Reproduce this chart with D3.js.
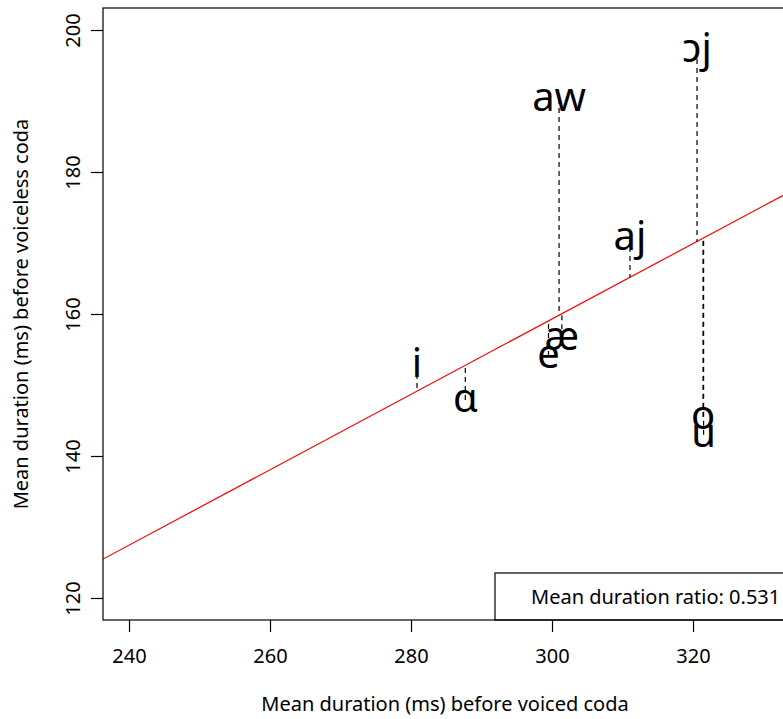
<!DOCTYPE html>
<html>
<head>
<meta charset="utf-8">
<script src="https://cdn.jsdelivr.net/npm/d3@7"></script>
<style>
  html, body { margin: 0; padding: 0; background: #fff; }
  svg { display: block; }
  text { font-family: "Noto Sans", "Open Sans", sans-serif; fill: #000; }
</style>
</head>
<body>
<svg id="chart" width="783" height="719"></svg>
<script>
// ---- data ----
const vowels = ["i", "ɑ", "e", "æ", "aw", "aj", "ɔj", "o", "u"];
const voicedDur = [280.85, 287.7, 299.5, 301.4, 301.0, 311.06, 320.57, 321.42, 321.5];
const voicelessDur = [152.8, 147.9, 154.1, 156.6, 190.3, 170.7, 197.2, 145.5, 143.0];
const meanRatio = 0.531;
const xTicks = [240, 260, 280, 300, 320];
const yTicks = [120, 140, 160, 180, 200];
const xTitle = "Mean duration (ms) before voiced coda";
const yTitle = "Mean duration (ms) before voiceless coda";
const legendText = "Mean duration ratio: " + meanRatio;

// ---- layout ----
const W = 783, H = 719;
const plot = { left: 103, top: 8, right: 787, bottom: 620 };
const svg = d3.select("#chart");

const x = d3.scaleLinear().domain([236.31, 333.33]).range([plot.left, plot.right]);
const y = d3.scaleLinear().domain([116.9, 203.1]).range([plot.bottom, plot.top]);

svg.append("defs").append("clipPath").attr("id", "clip")
  .append("rect").attr("x", plot.left).attr("y", plot.top)
  .attr("width", plot.right - plot.left).attr("height", plot.bottom - plot.top);

const g = svg.append("g").attr("clip-path", "url(#clip)");

// regression line through origin
const [x0, x1] = x.domain();
g.append("line")
  .attr("x1", x(x0)).attr("y1", y(meanRatio * x0))
  .attr("x2", x(x1)).attr("y2", y(meanRatio * x1))
  .attr("stroke", "#ff0000").attr("stroke-width", 1.2);

// residual segments
const pts = vowels.map((v, i) => ({ v, vx: voicedDur[i], vy: voicelessDur[i] }));
g.selectAll("line.resid").data(pts).enter().append("line")
  .attr("class", "resid")
  .attr("x1", d => x(d.vx)).attr("x2", d => x(d.vx))
  .attr("y1", d => y(d.vy)).attr("y2", d => y(meanRatio * d.vx))
  .attr("stroke", "#000").attr("stroke-width", 1.2)
  .attr("stroke-dasharray", "5,4");

// labels
g.selectAll("text.lab").data(pts).enter().append("text")
  .attr("class", "lab")
  .attr("x", d => x(d.vx)).attr("y", d => y(d.vy) + 12)
  .attr("text-anchor", "middle")
  .style("font-size", "40px")
  .text(d => d.v);

// legend (bottom right)
const lg = svg.append("g");
lg.append("rect")
  .attr("x", 495).attr("y", 573)
  .attr("width", plot.right - 495).attr("height", plot.bottom - 573)
  .attr("fill", "#fff").attr("stroke", "#000").attr("stroke-width", 1.2);
lg.append("text").attr("x", 531).attr("y", 604)
  .style("font-size", "20px").text(legendText);

// box
svg.append("rect")
  .attr("x", plot.left).attr("y", plot.top)
  .attr("width", plot.right - plot.left).attr("height", plot.bottom - plot.top)
  .attr("fill", "none").attr("stroke", "#000").attr("stroke-width", 1.2);

// x axis
const xa = svg.append("g").attr("transform", `translate(0,${plot.bottom})`)
  .call(d3.axisBottom(x).tickValues(xTicks).tickSize(12).tickPadding(0).tickFormat(d3.format("d")));
xa.select(".domain").remove();
xa.selectAll(".tick line").attr("stroke", "#000").attr("stroke-width", 1.2);
xa.selectAll(".tick text").attr("y", 43).attr("dy", null)
  .style("font-size", "20px").style("font-family", '"Noto Sans", sans-serif').attr("fill", "#000");

// y axis
const ya = svg.append("g").attr("transform", `translate(${plot.left},0)`)
  .call(d3.axisLeft(y).tickValues(yTicks).tickSize(12).tickFormat(d3.format("d")));
ya.select(".domain").remove();
ya.selectAll(".tick line").attr("stroke", "#000").attr("stroke-width", 1.2);
ya.selectAll(".tick text")
  .attr("x", null).attr("dy", null)
  .attr("text-anchor", "middle")
  .attr("transform", "translate(-23,0) rotate(-90)")
  .style("font-size", "20px").style("font-family", '"Noto Sans", sans-serif').attr("fill", "#000");

// axis titles
svg.append("text").attr("x", (plot.left + plot.right) / 2).attr("y", 711)
  .attr("text-anchor", "middle").style("font-size", "20px").text(xTitle);
svg.append("text")
  .attr("transform", `translate(28,${(plot.top + plot.bottom) / 2}) rotate(-90)`)
  .attr("text-anchor", "middle").style("font-size", "20px").text(yTitle);
</script>
</body>
</html>
